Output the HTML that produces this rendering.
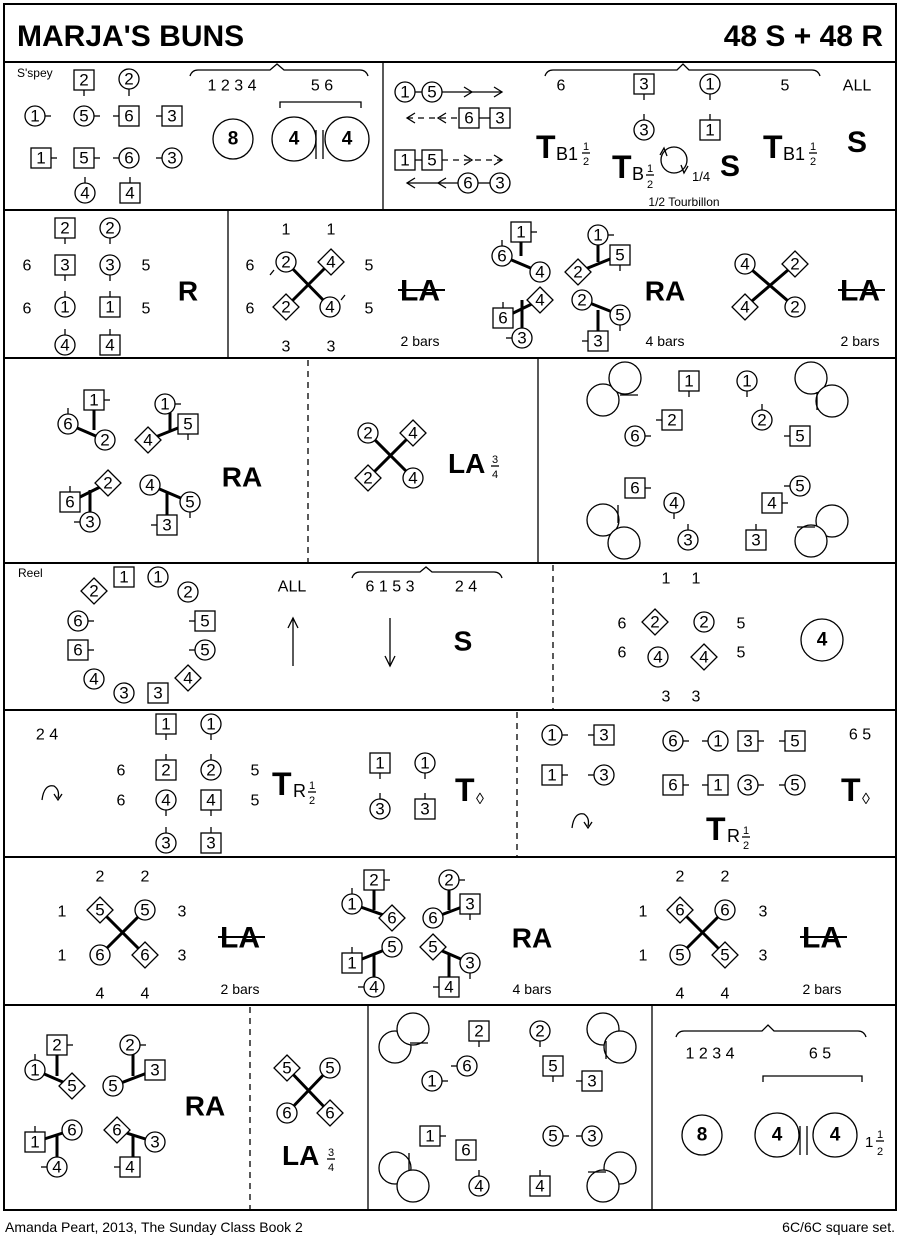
<!DOCTYPE html>
<html><head><meta charset="utf-8"><style>
html,body{margin:0;padding:0;background:#fff}
svg{display:block}
text{font-family:"Liberation Sans",Arial,sans-serif;fill:#000}
.n{font-size:17px;text-anchor:middle;dominant-baseline:central}
.s{font-size:16px;text-anchor:middle;dominant-baseline:central}
.b{font-weight:bold;text-anchor:middle;dominant-baseline:central}
circle,rect,polygon{fill:#fff;stroke:#000;stroke-width:1.3}
line,path{stroke:#000;stroke-width:1.3;fill:none}
.x{stroke-width:3}
.d{stroke-dasharray:6,5}
</style></head><body>
<svg width="900" height="1242" viewBox="0 0 900 1242" xmlns="http://www.w3.org/2000/svg">
<rect x="4" y="4" width="892" height="1206" style="stroke-width:2"/>
<line x1="4" y1="62" x2="896" y2="62" style="stroke-width:2"/>
<line x1="4" y1="210" x2="896" y2="210" style="stroke-width:2"/>
<line x1="4" y1="358" x2="896" y2="358" style="stroke-width:2"/>
<line x1="4" y1="563" x2="896" y2="563" style="stroke-width:2"/>
<line x1="4" y1="710" x2="896" y2="710" style="stroke-width:2"/>
<line x1="4" y1="857" x2="896" y2="857" style="stroke-width:2"/>
<line x1="4" y1="1005" x2="896" y2="1005" style="stroke-width:2"/>
<line x1="383" y1="62" x2="383" y2="210"/>
<line x1="228" y1="210" x2="228" y2="358"/>
<line x1="308" y1="360" x2="308" y2="563" class="d"/>
<line x1="538" y1="358" x2="538" y2="563"/>
<line x1="553" y1="565" x2="553" y2="710" class="d"/>
<line x1="517" y1="712" x2="517" y2="857" class="d"/>
<line x1="250" y1="1007" x2="250" y2="1210" class="d"/>
<line x1="368" y1="1005" x2="368" y2="1210"/>
<line x1="652" y1="1005" x2="652" y2="1210"/>

<text x="17" y="46" style="font-size:30px;font-weight:bold">MARJA'S BUNS</text>
<text x="883" y="46" style="font-size:30px;font-weight:bold;text-anchor:end">48 S + 48 R</text>
<text x="5" y="1232" style="font-size:14px">Amanda Peart, 2013, The Sunday Class Book 2</text>
<text x="895" y="1232" style="font-size:14px;text-anchor:end">6C/6C  square set.</text>

<!-- ROW 1 LEFT -->
<text x="17" y="77" style="font-size:12px">S'spey</text>
<rect x="74" y="70" width="20" height="20"/><text class="n" x="84" y="80">2</text><line x1="84" y1="90" x2="84" y2="96"/>
<circle cx="129" cy="79" r="10"/><text class="n" x="129" y="79">2</text><line x1="129" y1="89" x2="129" y2="96"/>
<circle cx="35" cy="116" r="10"/><text class="n" x="35" y="116">1</text><line x1="45" y1="116" x2="51" y2="116"/>
<circle cx="84" cy="116" r="10"/><text class="n" x="84" y="116">5</text><line x1="94" y1="116" x2="100" y2="116"/>
<rect x="119" y="106" width="20" height="20"/><text class="n" x="129" y="116">6</text><line x1="113" y1="116" x2="119" y2="116"/>
<rect x="162" y="106" width="20" height="20"/><text class="n" x="172" y="116">3</text><line x1="156" y1="116" x2="162" y2="116"/>
<rect x="31" y="148" width="20" height="20"/><text class="n" x="41" y="158">1</text><line x1="51" y1="158" x2="57" y2="158"/>
<rect x="74" y="148" width="20" height="20"/><text class="n" x="84" y="158">5</text><line x1="94" y1="158" x2="100" y2="158"/>
<circle cx="129" cy="158" r="10"/><text class="n" x="129" y="158">6</text><line x1="113" y1="158" x2="119" y2="158"/>
<circle cx="172" cy="158" r="10"/><text class="n" x="172" y="158">3</text><line x1="156" y1="158" x2="162" y2="158"/>
<circle cx="85" cy="193" r="10"/><text class="n" x="85" y="193">4</text><line x1="85" y1="177" x2="85" y2="183"/>
<rect x="120" y="183" width="20" height="20"/><text class="n" x="130" y="193">4</text><line x1="130" y1="177" x2="130" y2="183"/>
<path d="M190 76 Q192 70 198 70 L270 70 L277 64 L284 70 L360 70 Q366 70 368 76"/>
<text class="s" x="232" y="86">1 2 3 4</text><text class="s" x="322" y="86">5 6</text>
<path d="M280 108 L280 102 L361 102 L361 108"/>
<circle cx="233" cy="139" r="20"/><text class="b" x="233" y="139" style="font-size:19px">8</text>
<circle cx="294" cy="139" r="22"/><text class="b" x="294" y="139" style="font-size:19px">4</text>
<circle cx="347" cy="139" r="22"/><text class="b" x="347" y="139" style="font-size:19px">4</text>
<line x1="316" y1="130" x2="316" y2="159"/><line x1="323" y1="130" x2="323" y2="159"/>

<!-- ROW 1 RIGHT -->
<circle cx="405" cy="92" r="10"/><text class="n" x="405" y="92">1</text>
<circle cx="432" cy="92" r="10"/><text class="n" x="432" y="92">5</text>
<line x1="415" y1="92" x2="422" y2="92"/>
<line x1="442" y1="92" x2="502" y2="92"/><path d="M464 87 L472 92 L464 97 M494 87 L502 92 L494 97"/>
<line x1="407" y1="118" x2="460" y2="118" class="d"/><path d="M415 113 L407 118 L415 123 M446 113 L438 118 L446 123"/>
<rect x="459" y="108" width="20" height="20"/><text class="n" x="469" y="118">6</text>
<rect x="490" y="108" width="20" height="20"/><text class="n" x="500" y="118">3</text><line x1="479" y1="118" x2="490" y2="118"/>
<rect x="395" y="150" width="20" height="20"/><text class="n" x="405" y="160">1</text>
<rect x="422" y="150" width="20" height="20"/><text class="n" x="432" y="160">5</text><line x1="415" y1="160" x2="422" y2="160"/>
<line x1="442" y1="160" x2="502" y2="160" class="d"/><path d="M464 155 L472 160 L464 165 M494 155 L502 160 L494 165"/>
<line x1="407" y1="183" x2="458" y2="183"/><path d="M415 178 L407 183 L415 188 M446 178 L438 183 L446 188"/>
<circle cx="468" cy="183" r="10"/><text class="n" x="468" y="183">6</text>
<circle cx="500" cy="183" r="10"/><text class="n" x="500" y="183">3</text><line x1="478" y1="183" x2="490" y2="183"/>
<path d="M545 76 Q547 70 553 70 L677 70 L683 64 L689 70 L812 70 Q818 70 820 76"/>
<text class="s" x="561" y="86">6</text>
<rect x="634" y="74" width="20" height="20"/><text class="n" x="644" y="84">3</text><line x1="644" y1="94" x2="644" y2="100"/>
<circle cx="710" cy="84" r="10"/><text class="n" x="710" y="84">1</text><line x1="710" y1="94" x2="710" y2="100"/>
<text class="s" x="785" y="86">5</text>
<text class="s" x="857" y="86">ALL</text>
<circle cx="644" cy="130" r="10"/><text class="n" x="644" y="130">3</text><line x1="644" y1="114" x2="644" y2="120"/>
<rect x="700" y="120" width="20" height="20"/><text class="n" x="710" y="130">1</text><line x1="710" y1="114" x2="710" y2="120"/>
<text x="536" y="158" style="font-size:32px;font-weight:bold">T</text><text x="556" y="160" style="font-size:18px">B1</text>
<text x="586" y="150" style="font-size:11px;text-anchor:middle">1</text><line x1="582" y1="153" x2="590" y2="153"/><text x="586" y="165" style="font-size:11px;text-anchor:middle">2</text>
<text x="612" y="178" style="font-size:32px;font-weight:bold">T</text><text x="632" y="180" style="font-size:18px">B</text>
<text x="650" y="172" style="font-size:11px;text-anchor:middle">1</text><line x1="646" y1="175" x2="654" y2="175"/><text x="650" y="188" style="font-size:11px;text-anchor:middle">2</text>
<circle cx="674" cy="160" r="13" style="fill:none"/><path d="M660 155 L664 148 L667 156 M688 166 L684 173 L681 165"/>
<text x="692" y="181" style="font-size:13px">1/4</text>
<text x="720" y="176" style="font-size:30px;font-weight:bold">S</text>
<text x="763" y="158" style="font-size:32px;font-weight:bold">T</text><text x="783" y="160" style="font-size:18px">B1</text>
<text x="813" y="150" style="font-size:11px;text-anchor:middle">1</text><line x1="809" y1="153" x2="817" y2="153"/><text x="813" y="165" style="font-size:11px;text-anchor:middle">2</text>
<text x="847" y="152" style="font-size:30px;font-weight:bold">S</text>
<text x="684" y="206" style="font-size:12px;text-anchor:middle">1/2 Tourbillon</text>

<!-- ROW 2 LEFT -->
<rect x="55" y="218" width="20" height="20"/><text class="n" x="65" y="228">2</text><line x1="65" y1="238" x2="65" y2="244"/>
<circle cx="110" cy="228" r="10"/><text class="n" x="110" y="228">2</text><line x1="110" y1="238" x2="110" y2="244"/>
<text class="s" x="27" y="266">6</text><text class="s" x="146" y="266">5</text>
<rect x="55" y="255" width="20" height="20"/><text class="n" x="65" y="265">3</text><line x1="65" y1="275" x2="65" y2="281"/>
<circle cx="110" cy="265" r="10"/><text class="n" x="110" y="265">3</text><line x1="110" y1="275" x2="110" y2="281"/>
<text class="s" x="27" y="309">6</text><text class="s" x="146" y="309">5</text>
<circle cx="65" cy="307" r="10"/><text class="n" x="65" y="307">1</text><line x1="65" y1="291" x2="65" y2="297"/>
<rect x="100" y="297" width="20" height="20"/><text class="n" x="110" y="307">1</text><line x1="110" y1="291" x2="110" y2="297"/>
<circle cx="65" cy="345" r="10"/><text class="n" x="65" y="345">4</text><line x1="65" y1="329" x2="65" y2="335"/>
<rect x="100" y="335" width="20" height="20"/><text class="n" x="110" y="345">4</text><line x1="110" y1="329" x2="110" y2="335"/>
<text class="b" x="188" y="291" style="font-size:28px">R</text>

<!-- ROW 2 CROSS 1 -->
<text class="s" x="286" y="230">1</text><text class="s" x="331" y="230">1</text>
<text class="s" x="250" y="266">6</text><text class="s" x="369" y="266">5</text>
<text class="s" x="250" y="309">6</text><text class="s" x="369" y="309">5</text>
<text class="s" x="286" y="347">3</text><text class="s" x="331" y="347">3</text>
<line x1="286" y1="262" x2="330" y2="307" class="x"/><line x1="331" y1="262" x2="286" y2="307" class="x"/>
<circle cx="286" cy="262" r="10"/><text class="n" x="286" y="262">2</text><line x1="274" y1="270" x2="270" y2="275"/>
<polygon points="331,249 344,262 331,275 318,262"/><text class="n" x="331" y="262">4</text>
<polygon points="286,294 299,307 286,320 273,307"/><text class="n" x="286" y="307">2</text>
<circle cx="330" cy="307" r="10"/><text class="n" x="330" y="307">4</text><line x1="341" y1="300" x2="345" y2="295"/>
<text class="b" x="420" y="291" style="font-size:30px">LA</text><line x1="398" y1="290" x2="445" y2="290" style="stroke-width:2"/>
<text class="s" x="420" y="341" style="font-size:14px">2 bars</text>

<!-- ROW 2 RA -->
<line x1="521" y1="232" x2="521" y2="256" class="x"/><line x1="502" y1="256" x2="540" y2="272" class="x"/>
<rect x="511" y="222" width="20" height="20"/><text class="n" x="521" y="232">1</text><line x1="531" y1="232" x2="537" y2="232"/>
<circle cx="502" cy="256" r="10"/><text class="n" x="502" y="256">6</text><line x1="502" y1="240" x2="502" y2="246"/>
<circle cx="540" cy="272" r="10"/><text class="n" x="540" y="272">4</text>
<line x1="522" y1="300" x2="522" y2="338" class="x"/><line x1="503" y1="318" x2="540" y2="300" class="x"/>
<polygon points="540,287 553,300 540,313 527,300"/><text class="n" x="540" y="300">4</text>
<rect x="493" y="308" width="20" height="20"/><text class="n" x="503" y="318">6</text><line x1="503" y1="302" x2="503" y2="308"/>
<circle cx="522" cy="338" r="10"/><text class="n" x="522" y="338">3</text><line x1="506" y1="338" x2="512" y2="338"/>
<line x1="598" y1="235" x2="598" y2="262" class="x"/><line x1="578" y1="272" x2="620" y2="255" class="x"/>
<circle cx="598" cy="235" r="10"/><text class="n" x="598" y="235">1</text><line x1="608" y1="235" x2="614" y2="235"/>
<rect x="610" y="245" width="20" height="20"/><text class="n" x="620" y="255">5</text><line x1="620" y1="265" x2="620" y2="271"/>
<polygon points="578,259 591,272 578,285 565,272"/><text class="n" x="578" y="272">2</text>
<line x1="598" y1="310" x2="598" y2="341" class="x"/><line x1="582" y1="300" x2="620" y2="315" class="x"/>
<circle cx="582" cy="300" r="10"/><text class="n" x="582" y="300">2</text>
<circle cx="620" cy="315" r="10"/><text class="n" x="620" y="315">5</text><line x1="620" y1="325" x2="620" y2="331"/>
<rect x="588" y="331" width="20" height="20"/><text class="n" x="598" y="341">3</text><line x1="582" y1="341" x2="588" y2="341"/>
<text class="b" x="665" y="291" style="font-size:28px">RA</text>
<text class="s" x="665" y="341" style="font-size:14px">4 bars</text>

<!-- ROW 2 CROSS 2 -->
<line x1="745" y1="264" x2="795" y2="307" class="x"/><line x1="795" y1="264" x2="745" y2="307" class="x"/>
<circle cx="745" cy="264" r="10"/><text class="n" x="745" y="264">4</text>
<polygon points="795,251 808,264 795,277 782,264"/><text class="n" x="795" y="264">2</text>
<polygon points="745,294 758,307 745,320 732,307"/><text class="n" x="745" y="307">4</text>
<circle cx="795" cy="307" r="10"/><text class="n" x="795" y="307">2</text>
<text class="b" x="860" y="291" style="font-size:30px">LA</text><line x1="838" y1="290" x2="885" y2="290" style="stroke-width:2"/>
<text class="s" x="860" y="341" style="font-size:14px">2 bars</text>

<!-- ROW 3 LEFT RA -->
<line x1="94" y1="400" x2="94" y2="430" class="x"/><line x1="68" y1="424" x2="105" y2="440" class="x"/>
<rect x="84" y="390" width="20" height="20"/><text class="n" x="94" y="400">1</text><line x1="104" y1="400" x2="110" y2="400"/>
<circle cx="68" cy="424" r="10"/><text class="n" x="68" y="424">6</text><line x1="68" y1="408" x2="68" y2="414"/>
<circle cx="105" cy="440" r="10"/><text class="n" x="105" y="440">2</text>
<line x1="170" y1="404" x2="170" y2="430" class="x"/><line x1="148" y1="440" x2="188" y2="424" class="x"/>
<circle cx="165" cy="404" r="10"/><text class="n" x="165" y="404">1</text><line x1="175" y1="404" x2="181" y2="404"/>
<polygon points="148,427 161,440 148,453 135,440"/><text class="n" x="148" y="440">4</text>
<rect x="178" y="414" width="20" height="20"/><text class="n" x="188" y="424">5</text><line x1="188" y1="434" x2="188" y2="440"/>
<line x1="90" y1="490" x2="90" y2="522" class="x"/><line x1="70" y1="502" x2="108" y2="483" class="x"/>
<polygon points="108,470 121,483 108,496 95,483"/><text class="n" x="108" y="483">2</text>
<rect x="60" y="492" width="20" height="20"/><text class="n" x="70" y="502">6</text><line x1="70" y1="486" x2="70" y2="492"/>
<circle cx="90" cy="522" r="10"/><text class="n" x="90" y="522">3</text><line x1="74" y1="522" x2="80" y2="522"/>
<line x1="167" y1="492" x2="167" y2="525" class="x"/><line x1="150" y1="485" x2="190" y2="502" class="x"/>
<circle cx="150" cy="485" r="10"/><text class="n" x="150" y="485">4</text>
<circle cx="190" cy="502" r="10"/><text class="n" x="190" y="502">5</text><line x1="190" y1="512" x2="190" y2="518"/>
<rect x="157" y="515" width="20" height="20"/><text class="n" x="167" y="525">3</text><line x1="151" y1="525" x2="157" y2="525"/>
<text class="b" x="242" y="477" style="font-size:28px">RA</text>

<!-- ROW 3 MID -->
<line x1="368" y1="433" x2="413" y2="478" class="x"/><line x1="413" y1="433" x2="368" y2="478" class="x"/>
<circle cx="368" cy="433" r="10"/><text class="n" x="368" y="433">2</text>
<polygon points="413,420 426,433 413,446 400,433"/><text class="n" x="413" y="433">4</text>
<polygon points="368,465 381,478 368,491 355,478"/><text class="n" x="368" y="478">2</text>
<circle cx="413" cy="478" r="10"/><text class="n" x="413" y="478">4</text>
<text x="448" y="473" style="font-size:28px;font-weight:bold">LA</text>
<text x="495" y="463" style="font-size:11px;text-anchor:middle">3</text><line x1="491" y1="466" x2="499" y2="466"/><text x="495" y="478" style="font-size:11px;text-anchor:middle">4</text>

<!-- ROW 3 RIGHT -->
<circle cx="603" cy="400" r="16"/><circle cx="625" cy="378" r="16"/><line x1="620" y1="395" x2="638" y2="395"/>
<circle cx="811" cy="378" r="16"/><circle cx="832" cy="401" r="16"/><line x1="817" y1="392" x2="817" y2="410"/>
<circle cx="603" cy="520" r="16"/><circle cx="624" cy="543" r="16"/><line x1="618" y1="505" x2="618" y2="523"/>
<circle cx="832" cy="521" r="16"/><circle cx="811" cy="541" r="16"/><line x1="797" y1="527" x2="815" y2="527"/>
<rect x="679" y="371" width="20" height="20"/><text class="n" x="689" y="381">1</text><line x1="689" y1="391" x2="689" y2="397"/>
<rect x="662" y="410" width="20" height="20"/><text class="n" x="672" y="420">2</text><line x1="656" y1="420" x2="662" y2="420"/>
<circle cx="635" cy="436" r="10"/><text class="n" x="635" y="436">6</text><line x1="645" y1="436" x2="651" y2="436"/>
<circle cx="747" cy="381" r="10"/><text class="n" x="747" y="381">1</text><line x1="747" y1="391" x2="747" y2="397"/>
<circle cx="762" cy="420" r="10"/><text class="n" x="762" y="420">2</text><line x1="762" y1="404" x2="762" y2="410"/>
<rect x="790" y="426" width="20" height="20"/><text class="n" x="800" y="436">5</text><line x1="784" y1="436" x2="790" y2="436"/>
<rect x="625" y="478" width="20" height="20"/><text class="n" x="635" y="488">6</text><line x1="645" y1="488" x2="651" y2="488"/>
<circle cx="674" cy="503" r="10"/><text class="n" x="674" y="503">4</text><line x1="674" y1="513" x2="674" y2="519"/>
<circle cx="688" cy="540" r="10"/><text class="n" x="688" y="540">3</text><line x1="688" y1="524" x2="688" y2="530"/>
<rect x="746" y="530" width="20" height="20"/><text class="n" x="756" y="540">3</text><line x1="756" y1="524" x2="756" y2="530"/>
<rect x="762" y="493" width="20" height="20"/><text class="n" x="772" y="503">4</text><line x1="782" y1="503" x2="788" y2="503"/>
<circle cx="800" cy="486" r="10"/><text class="n" x="800" y="486">5</text><line x1="784" y1="486" x2="790" y2="486"/>

<!-- ROW 4 -->
<text x="18" y="577" style="font-size:12px">Reel</text>
<polygon points="94,578 107,591 94,604 81,591"/><text class="n" x="94" y="591">2</text>
<rect x="114" y="567" width="20" height="20"/><text class="n" x="124" y="577">1</text>
<circle cx="158" cy="577" r="10"/><text class="n" x="158" y="577">1</text>
<circle cx="188" cy="592" r="10"/><text class="n" x="188" y="592">2</text>
<rect x="195" y="611" width="20" height="20"/><text class="n" x="205" y="621">5</text><line x1="189" y1="621" x2="195" y2="621"/>
<circle cx="205" cy="650" r="10"/><text class="n" x="205" y="650">5</text><line x1="189" y1="650" x2="195" y2="650"/>
<polygon points="188,665 201,678 188,691 175,678"/><text class="n" x="188" y="678">4</text>
<rect x="148" y="683" width="20" height="20"/><text class="n" x="158" y="693">3</text>
<circle cx="124" cy="693" r="10"/><text class="n" x="124" y="693">3</text>
<circle cx="94" cy="679" r="10"/><text class="n" x="94" y="679">4</text>
<rect x="68" y="640" width="20" height="20"/><text class="n" x="78" y="650">6</text><line x1="88" y1="650" x2="94" y2="650"/>
<circle cx="78" cy="621" r="10"/><text class="n" x="78" y="621">6</text><line x1="88" y1="621" x2="94" y2="621"/>
<text class="s" x="292" y="587">ALL</text>
<line x1="293" y1="666" x2="293" y2="618"/><path d="M288 628 L293 618 L298 628"/>
<line x1="390" y1="618" x2="390" y2="666"/><path d="M385 656 L390 666 L395 656"/>
<path d="M352 578 Q354 572 360 572 L420 572 L426 567 L432 572 L494 572 Q500 572 502 578"/>
<text class="s" x="390" y="587">6 1 5 3</text><text class="s" x="466" y="587">2 4</text>
<text class="b" x="463" y="641" style="font-size:28px">S</text>
<text class="s" x="666" y="579">1</text><text class="s" x="696" y="579">1</text>
<text class="s" x="622" y="624">6</text><text class="s" x="741" y="624">5</text>
<text class="s" x="622" y="653">6</text><text class="s" x="741" y="653">5</text>
<text class="s" x="666" y="697">3</text><text class="s" x="696" y="697">3</text>
<polygon points="655,609 668,622 655,635 642,622"/><text class="n" x="655" y="622">2</text>
<circle cx="704" cy="622" r="10"/><text class="n" x="704" y="622">2</text>
<circle cx="658" cy="657" r="10"/><text class="n" x="658" y="657">4</text>
<polygon points="704,644 717,657 704,670 691,657"/><text class="n" x="704" y="657">4</text>
<circle cx="822" cy="640" r="21"/><text class="b" x="822" y="640" style="font-size:19px">4</text>

<!-- ROW 5 -->
<text class="s" x="47" y="735">2 4</text>
<path d="M42 800 Q44 784 54 786 Q60 790 58 798"/><path d="M54 794 L58 800 L62 794"/>
<rect x="156" y="714" width="20" height="20"/><text class="n" x="166" y="724">1</text><line x1="166" y1="734" x2="166" y2="740"/>
<circle cx="211" cy="724" r="10"/><text class="n" x="211" y="724">1</text><line x1="211" y1="734" x2="211" y2="740"/>
<text class="s" x="121" y="771">6</text><text class="s" x="255" y="771">5</text>
<rect x="156" y="760" width="20" height="20"/><text class="n" x="166" y="770">2</text><line x1="166" y1="754" x2="166" y2="760"/>
<circle cx="211" cy="770" r="10"/><text class="n" x="211" y="770">2</text><line x1="211" y1="754" x2="211" y2="760"/>
<text class="s" x="121" y="801">6</text><text class="s" x="255" y="801">5</text>
<circle cx="166" cy="800" r="10"/><text class="n" x="166" y="800">4</text><line x1="166" y1="810" x2="166" y2="816"/>
<rect x="201" y="790" width="20" height="20"/><text class="n" x="211" y="800">4</text><line x1="211" y1="810" x2="211" y2="816"/>
<circle cx="166" cy="843" r="10"/><text class="n" x="166" y="843">3</text><line x1="166" y1="827" x2="166" y2="833"/>
<rect x="201" y="833" width="20" height="20"/><text class="n" x="211" y="843">3</text><line x1="211" y1="827" x2="211" y2="833"/>
<text x="272" y="795" style="font-size:32px;font-weight:bold">T</text><text x="293" y="797" style="font-size:18px">R</text>
<text x="312" y="789" style="font-size:11px;text-anchor:middle">1</text><line x1="308" y1="792" x2="316" y2="792"/><text x="312" y="804" style="font-size:11px;text-anchor:middle">2</text>
<rect x="370" y="753" width="20" height="20"/><text class="n" x="380" y="763">1</text><line x1="380" y1="773" x2="380" y2="779"/>
<circle cx="425" cy="763" r="10"/><text class="n" x="425" y="763">1</text><line x1="425" y1="773" x2="425" y2="779"/>
<circle cx="380" cy="809" r="10"/><text class="n" x="380" y="809">3</text><line x1="380" y1="793" x2="380" y2="799"/>
<rect x="415" y="799" width="20" height="20"/><text class="n" x="425" y="809">3</text><line x1="425" y1="793" x2="425" y2="799"/>
<text x="455" y="801" style="font-size:32px;font-weight:bold">T</text><text x="476" y="804" style="font-size:16px">◊</text>
<circle cx="552" cy="735" r="10"/><text class="n" x="552" y="735">1</text><line x1="562" y1="735" x2="568" y2="735"/>
<rect x="594" y="725" width="20" height="20"/><text class="n" x="604" y="735">3</text><line x1="588" y1="735" x2="594" y2="735"/>
<rect x="542" y="765" width="20" height="20"/><text class="n" x="552" y="775">1</text><line x1="562" y1="775" x2="568" y2="775"/>
<circle cx="604" cy="775" r="10"/><text class="n" x="604" y="775">3</text><line x1="588" y1="775" x2="594" y2="775"/>
<path d="M572 828 Q574 812 584 814 Q590 818 588 826"/><path d="M584 822 L588 828 L592 822"/>
<circle cx="673" cy="741" r="10"/><text class="n" x="673" y="741">6</text><line x1="683" y1="741" x2="689" y2="741"/>
<circle cx="718" cy="741" r="10"/><text class="n" x="718" y="741">1</text><line x1="702" y1="741" x2="708" y2="741"/>
<rect x="738" y="731" width="20" height="20"/><text class="n" x="748" y="741">3</text><line x1="758" y1="741" x2="764" y2="741"/>
<rect x="785" y="731" width="20" height="20"/><text class="n" x="795" y="741">5</text><line x1="779" y1="741" x2="785" y2="741"/>
<text class="s" x="860" y="735">6 5</text>
<rect x="663" y="775" width="20" height="20"/><text class="n" x="673" y="785">6</text><line x1="683" y1="785" x2="689" y2="785"/>
<rect x="708" y="775" width="20" height="20"/><text class="n" x="718" y="785">1</text><line x1="702" y1="785" x2="708" y2="785"/>
<circle cx="748" cy="785" r="10"/><text class="n" x="748" y="785">3</text><line x1="758" y1="785" x2="764" y2="785"/>
<circle cx="795" cy="785" r="10"/><text class="n" x="795" y="785">5</text><line x1="779" y1="785" x2="785" y2="785"/>
<text x="841" y="801" style="font-size:32px;font-weight:bold">T</text><text x="862" y="804" style="font-size:16px">◊</text>
<text x="706" y="840" style="font-size:32px;font-weight:bold">T</text><text x="727" y="842" style="font-size:18px">R</text>
<text x="746" y="834" style="font-size:11px;text-anchor:middle">1</text><line x1="742" y1="837" x2="750" y2="837"/><text x="746" y="849" style="font-size:11px;text-anchor:middle">2</text>

<!-- ROW 6 CROSS 1 -->
<text class="s" x="100" y="877">2</text><text class="s" x="145" y="877">2</text>
<text class="s" x="62" y="912">1</text><text class="s" x="182" y="912">3</text>
<text class="s" x="62" y="956">1</text><text class="s" x="182" y="956">3</text>
<text class="s" x="100" y="994">4</text><text class="s" x="145" y="994">4</text>
<line x1="100" y1="910" x2="145" y2="955" class="x"/><line x1="145" y1="910" x2="100" y2="955" class="x"/>
<polygon points="100,897 113,910 100,923 87,910"/><text class="n" x="100" y="910">5</text>
<circle cx="145" cy="910" r="10"/><text class="n" x="145" y="910">5</text>
<circle cx="100" cy="955" r="10"/><text class="n" x="100" y="955">6</text>
<polygon points="145,942 158,955 145,968 132,955"/><text class="n" x="145" y="955">6</text>
<text class="b" x="240" y="938" style="font-size:30px">LA</text><line x1="218" y1="937" x2="265" y2="937" style="stroke-width:2"/>
<text class="s" x="240" y="989" style="font-size:14px">2 bars</text>

<!-- ROW 6 RA -->
<line x1="374" y1="880" x2="374" y2="910" class="x"/><line x1="352" y1="904" x2="392" y2="918" class="x"/>
<rect x="364" y="870" width="20" height="20"/><text class="n" x="374" y="880">2</text><line x1="384" y1="880" x2="390" y2="880"/>
<circle cx="352" cy="904" r="10"/><text class="n" x="352" y="904">1</text><line x1="352" y1="888" x2="352" y2="894"/>
<polygon points="392,905 405,918 392,931 379,918"/><text class="n" x="392" y="918">6</text>
<line x1="374" y1="955" x2="374" y2="987" class="x"/><line x1="352" y1="963" x2="392" y2="947" class="x"/>
<circle cx="392" cy="947" r="10"/><text class="n" x="392" y="947">5</text>
<rect x="342" y="953" width="20" height="20"/><text class="n" x="352" y="963">1</text><line x1="352" y1="947" x2="352" y2="953"/>
<circle cx="374" cy="987" r="10"/><text class="n" x="374" y="987">4</text><line x1="358" y1="987" x2="364" y2="987"/>
<line x1="449" y1="880" x2="449" y2="910" class="x"/><line x1="433" y1="918" x2="470" y2="904" class="x"/>
<circle cx="449" cy="880" r="10"/><text class="n" x="449" y="880">2</text><line x1="459" y1="880" x2="465" y2="880"/>
<rect x="460" y="894" width="20" height="20"/><text class="n" x="470" y="904">3</text><line x1="470" y1="914" x2="470" y2="920"/>
<circle cx="433" cy="918" r="10"/><text class="n" x="433" y="918">6</text>
<line x1="449" y1="955" x2="449" y2="987" class="x"/><line x1="433" y1="947" x2="470" y2="963" class="x"/>
<polygon points="433,934 446,947 433,960 420,947"/><text class="n" x="433" y="947">5</text>
<circle cx="470" cy="963" r="10"/><text class="n" x="470" y="963">3</text><line x1="470" y1="973" x2="470" y2="979"/>
<rect x="439" y="977" width="20" height="20"/><text class="n" x="449" y="987">4</text><line x1="433" y1="987" x2="439" y2="987"/>
<text class="b" x="532" y="938" style="font-size:28px">RA</text>
<text class="s" x="532" y="989" style="font-size:14px">4 bars</text>

<!-- ROW 6 CROSS 2 -->
<text class="s" x="680" y="877">2</text><text class="s" x="725" y="877">2</text>
<text class="s" x="643" y="912">1</text><text class="s" x="763" y="912">3</text>
<text class="s" x="643" y="956">1</text><text class="s" x="763" y="956">3</text>
<text class="s" x="680" y="994">4</text><text class="s" x="725" y="994">4</text>
<line x1="680" y1="910" x2="725" y2="955" class="x"/><line x1="725" y1="910" x2="680" y2="955" class="x"/>
<polygon points="680,897 693,910 680,923 667,910"/><text class="n" x="680" y="910">6</text>
<circle cx="725" cy="910" r="10"/><text class="n" x="725" y="910">6</text>
<circle cx="680" cy="955" r="10"/><text class="n" x="680" y="955">5</text>
<polygon points="725,942 738,955 725,968 712,955"/><text class="n" x="725" y="955">5</text>
<text class="b" x="822" y="938" style="font-size:30px">LA</text><line x1="800" y1="937" x2="847" y2="937" style="stroke-width:2"/>
<text class="s" x="822" y="989" style="font-size:14px">2 bars</text>

<!-- ROW 7 LEFT RA -->
<line x1="57" y1="1045" x2="57" y2="1076" class="x"/><line x1="35" y1="1070" x2="72" y2="1086" class="x"/>
<rect x="47" y="1035" width="20" height="20"/><text class="n" x="57" y="1045">2</text><line x1="67" y1="1045" x2="73" y2="1045"/>
<circle cx="35" cy="1070" r="10"/><text class="n" x="35" y="1070">1</text><line x1="35" y1="1054" x2="35" y2="1060"/>
<polygon points="72,1073 85,1086 72,1099 59,1086"/><text class="n" x="72" y="1086">5</text>
<line x1="133" y1="1045" x2="133" y2="1076" class="x"/><line x1="113" y1="1086" x2="155" y2="1070" class="x"/>
<circle cx="130" cy="1045" r="10"/><text class="n" x="130" y="1045">2</text><line x1="140" y1="1045" x2="146" y2="1045"/>
<rect x="145" y="1060" width="20" height="20"/><text class="n" x="155" y="1070">3</text>
<circle cx="113" cy="1086" r="10"/><text class="n" x="113" y="1086">5</text>
<line x1="57" y1="1136" x2="57" y2="1167" class="x"/><line x1="35" y1="1142" x2="72" y2="1130" class="x"/>
<circle cx="72" cy="1130" r="10"/><text class="n" x="72" y="1130">6</text>
<rect x="25" y="1132" width="20" height="20"/><text class="n" x="35" y="1142">1</text><line x1="35" y1="1126" x2="35" y2="1132"/>
<circle cx="57" cy="1167" r="10"/><text class="n" x="57" y="1167">4</text><line x1="41" y1="1167" x2="47" y2="1167"/>
<line x1="133" y1="1136" x2="133" y2="1167" class="x"/><line x1="117" y1="1130" x2="155" y2="1142" class="x"/>
<polygon points="117,1117 130,1130 117,1143 104,1130"/><text class="n" x="117" y="1130">6</text>
<circle cx="155" cy="1142" r="10"/><text class="n" x="155" y="1142">3</text>
<rect x="120" y="1157" width="20" height="20"/><text class="n" x="130" y="1167">4</text><line x1="114" y1="1167" x2="120" y2="1167"/>
<text class="b" x="205" y="1106" style="font-size:28px">RA</text>

<!-- ROW 7 MID -->
<line x1="287" y1="1068" x2="330" y2="1113" class="x"/><line x1="330" y1="1068" x2="287" y2="1113" class="x"/>
<polygon points="287,1055 300,1068 287,1081 274,1068"/><text class="n" x="287" y="1068">5</text>
<circle cx="330" cy="1068" r="10"/><text class="n" x="330" y="1068">5</text>
<circle cx="287" cy="1113" r="10"/><text class="n" x="287" y="1113">6</text>
<polygon points="330,1100 343,1113 330,1126 317,1113"/><text class="n" x="330" y="1113">6</text>
<text x="282" y="1165" style="font-size:28px;font-weight:bold">LA</text>
<text x="331" y="1156" style="font-size:11px;text-anchor:middle">3</text><line x1="327" y1="1159" x2="335" y2="1159"/><text x="331" y="1171" style="font-size:11px;text-anchor:middle">4</text>

<!-- ROW 7 CIRCLE AREA -->
<circle cx="395" cy="1047" r="16"/><circle cx="413" cy="1029" r="16"/><line x1="410" y1="1043" x2="428" y2="1043"/>
<circle cx="603" cy="1029" r="16"/><circle cx="620" cy="1047" r="16"/><line x1="606" y1="1041" x2="606" y2="1059"/>
<circle cx="395" cy="1168" r="16"/><circle cx="413" cy="1186" r="16"/><line x1="409" y1="1153" x2="409" y2="1171"/>
<circle cx="620" cy="1168" r="16"/><circle cx="603" cy="1186" r="16"/><line x1="588" y1="1172" x2="606" y2="1172"/>
<rect x="469" y="1021" width="20" height="20"/><text class="n" x="479" y="1031">2</text><line x1="479" y1="1041" x2="479" y2="1047"/>
<circle cx="432" cy="1081" r="10"/><text class="n" x="432" y="1081">1</text><line x1="442" y1="1081" x2="448" y2="1081"/>
<circle cx="467" cy="1066" r="10"/><text class="n" x="467" y="1066">6</text><line x1="451" y1="1066" x2="457" y2="1066"/>
<circle cx="540" cy="1031" r="10"/><text class="n" x="540" y="1031">2</text><line x1="540" y1="1041" x2="540" y2="1047"/>
<rect x="543" y="1056" width="20" height="20"/><text class="n" x="553" y="1066">5</text><line x1="553" y1="1076" x2="553" y2="1082"/>
<rect x="582" y="1071" width="20" height="20"/><text class="n" x="592" y="1081">3</text><line x1="576" y1="1081" x2="582" y2="1081"/>
<rect x="420" y="1126" width="20" height="20"/><text class="n" x="430" y="1136">1</text><line x1="440" y1="1136" x2="446" y2="1136"/>
<rect x="456" y="1140" width="20" height="20"/><text class="n" x="466" y="1150">6</text>
<circle cx="479" cy="1186" r="10"/><text class="n" x="479" y="1186">4</text><line x1="479" y1="1170" x2="479" y2="1176"/>
<circle cx="553" cy="1136" r="10"/><text class="n" x="553" y="1136">5</text><line x1="563" y1="1136" x2="569" y2="1136"/>
<circle cx="592" cy="1136" r="10"/><text class="n" x="592" y="1136">3</text><line x1="576" y1="1136" x2="582" y2="1136"/>
<rect x="530" y="1176" width="20" height="20"/><text class="n" x="540" y="1186">4</text><line x1="540" y1="1170" x2="540" y2="1176"/>

<!-- ROW 7 RIGHT -->
<path d="M676 1037 Q678 1031 684 1031 L762 1031 L768 1025 L774 1031 L858 1031 Q864 1031 866 1037"/>
<text class="s" x="710" y="1054">1 2 3 4</text><text class="s" x="820" y="1054">6 5</text>
<path d="M763 1082 L763 1076 L862 1076 L862 1082"/>
<circle cx="702" cy="1135" r="20"/><text class="b" x="702" y="1135" style="font-size:19px">8</text>
<circle cx="777" cy="1135" r="22"/><text class="b" x="777" y="1135" style="font-size:19px">4</text>
<circle cx="835" cy="1135" r="22"/><text class="b" x="835" y="1135" style="font-size:19px">4</text>
<line x1="800" y1="1126" x2="800" y2="1155"/><line x1="807" y1="1126" x2="807" y2="1155"/>
<text x="865" y="1147" style="font-size:15px">1</text>
<text x="880" y="1138" style="font-size:11px;text-anchor:middle">1</text><line x1="876" y1="1141" x2="884" y2="1141"/><text x="880" y="1155" style="font-size:11px;text-anchor:middle">2</text>
</svg>
</body></html>
